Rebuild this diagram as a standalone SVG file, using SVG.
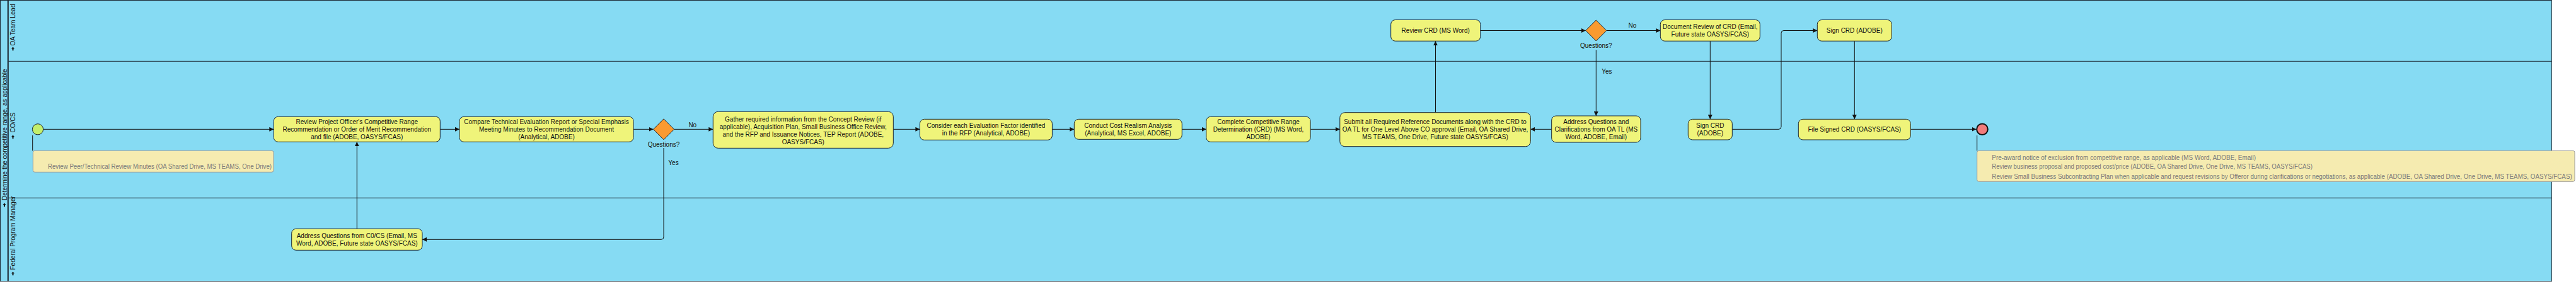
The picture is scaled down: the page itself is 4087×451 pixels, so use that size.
<svg xmlns="http://www.w3.org/2000/svg" width="4087" height="451" viewBox="0 0 4087 451">
<style>
.pool{fill:#86dbf3;stroke:#1b2630;stroke-width:1}
.div{stroke:#1b2630;stroke-width:1;fill:none}
.task{fill:#eff47a;stroke:#1b2630;stroke-width:1}
.gw{fill:#fa9a30;stroke:#1b2630;stroke-width:1}
.t{font-family:"Liberation Sans",Arial,sans-serif;font-size:10px;fill:#111;text-anchor:middle}
.lbl{font-family:"Liberation Sans",Arial,sans-serif;font-size:10px;fill:#111}
.ann{fill:#f5ebb0;stroke:#9a9a9a;stroke-width:1}
.annt{font-family:"Liberation Sans",Arial,sans-serif;font-size:10px;fill:#7a7a7a}
.conn path,.conn line{stroke:#111;stroke-width:1;fill:none}
.flow{marker-end:url(#arr)}
.icon{fill:#111}
</style>
<defs>
<marker id="arr" viewBox="0 0 10 10" refX="10" refY="5" markerUnits="userSpaceOnUse" markerWidth="7" markerHeight="7" orient="auto">
<path d="M0,0 L10,5 L0,10 z" fill="#111"/>
</marker>
</defs>
<rect x="0" y="0" width="4087" height="451" fill="#ffffff"/>
<g id="pool">
<rect class="pool" x="0.5" y="0.5" width="4047.8" height="446.2"/>
<line class="div" x1="12" y1="0.5" x2="12" y2="446.7"/>
<line class="div" x1="13.3" y1="0.5" x2="13.3" y2="446.7"/>
<line class="div" x1="13.3" y1="97.3" x2="4048.3" y2="97.3"/>
<line class="div" x1="13.3" y1="314.3" x2="4048.3" y2="314.3"/>
<text class="lbl" transform="translate(10.6,318) rotate(-90)">Determine the competitive range, as applicable</text>
<path class="icon" d="M7,322.5 l2.6,2.8 h-1.6 v3 h-2 v-3 h-1.6 z"/>
</g>
<g id="lane-oa">
<text class="lbl" transform="translate(23.8,72.5) rotate(-90)">OA Team Lead</text>
<path class="icon" d="M20.5,74.5 l2.6,2.8 h-1.6 v3 h-2 v-3 h-1.6 z"/>
</g>
<g id="lane-cocs">
<text class="lbl" transform="translate(23.8,210.5) rotate(-90)">CO/CS</text>
<path class="icon" d="M20.5,214.5 l2.6,2.8 h-1.6 v3 h-2 v-3 h-1.6 z"/>
</g>
<g id="lane-fpm">
<text class="lbl" transform="translate(23.8,428.5) rotate(-90)">Federal Program Manager</text>
<path class="icon" d="M20.5,431.5 l2.6,2.8 h-1.6 v3 h-2 v-3 h-1.6 z"/>
</g>

<g class="conn" id="connectors">
<path class="flow" d="M68.8,205.3 H434.3"/>
<path class="flow" d="M698.3,205.3 H729"/>
<path class="flow" d="M1005,205.3 H1036.5"/>
<path class="flow" d="M1069.5,205.3 H1131.3"/>
<path class="flow" d="M1053,235 V376.3 Q1053,380.3 1049,380.3 H670"/>
<path class="flow" d="M566.3,363.3 V225.3"/>
<path class="flow" d="M1417.3,205.3 H1459.4"/>
<path class="flow" d="M1669.5,205.3 H1704.3"/>
<path class="flow" d="M1875.4,205.3 H1913.8"/>
<path class="flow" d="M2079.1,205.3 H2125.8"/>
<path class="flow" d="M2277.5,178.7 V65.2"/>
<path class="flow" d="M2348.7,48.5 H2515.8"/>
<path class="flow" d="M2548.8,48.5 H2634.3"/>
<path class="flow" d="M2532.3,79.3 V184"/>
<path class="flow" d="M2461.7,205.3 H2428.3"/>
<path class="flow" d="M2713.3,65.2 V189.3"/>
<path class="flow" d="M2748.3,205.3 H2822 Q2826,205.3 2826,201.3 V52.5 Q2826,48.5 2830,48.5 H2883.3"/>
<path class="flow" d="M2942.3,65.2 V189.3"/>
<path class="flow" d="M3031.3,205.3 H3135.5"/>
<line x1="51.7" y1="215" x2="51.7" y2="239.3"/>
<line x1="3136.7" y1="215" x2="3136.7" y2="239.3"/>
<text class="lbl" x="1098.8" y="201.5" text-anchor="middle">No</text>
<text class="lbl" x="1068.5" y="262.2" text-anchor="middle">Yes</text>
<text class="lbl" x="2590" y="44.3" text-anchor="middle">No</text>
<text class="lbl" x="2549.3" y="117.3" text-anchor="middle">Yes</text>
</g>

<g id="start">
<circle cx="60" cy="205.3" r="8.6" fill="#c3ef6c" stroke="#1b2630" stroke-width="1"/>
</g>
<g id="note-start">
<rect class="ann" x="52.3" y="239.3" width="381.7" height="34" rx="3"/>
<text class="annt" x="76" y="268" textLength="355" lengthAdjust="spacingAndGlyphs">Review Peer/Technical Review Minutes (OA Shared Drive, MS TEAMS, One Drive)</text>
</g>
<g id="t1">
<rect class="task" x="434.3" y="185.3" width="264" height="40" rx="7"/>
<text class="t"><tspan x="566.3" y="196.9">Review Project Officer's Competitive Range</tspan><tspan x="566.3" y="208.9">Recommendation or Order of Merit Recommendation</tspan><tspan x="566.3" y="220.9">and file (ADOBE, OASYS/FCAS)</tspan></text>
</g>
<g id="t2">
<rect class="task" x="729" y="185.3" width="276" height="40" rx="7"/>
<text class="t"><tspan x="867" y="196.9">Compare Technical Evaluation Report or Special Emphasis</tspan><tspan x="867" y="208.9">Meeting Minutes to Recommendation Document</tspan><tspan x="867" y="220.9">(Analytical, ADOBE)</tspan></text>
</g>
<g id="g1">
<path class="gw" d="M1053,188.8 L1069.5,205.3 L1053,221.8 L1036.5,205.3 Z"/>
<text class="t" x="1053" y="232.9">Questions?</text>
</g>
<g id="t3">
<rect class="task" x="1131.3" y="177.3" width="286" height="58" rx="8"/>
<text class="t"><tspan x="1274.3" y="192.9">Gather required information from the Concept Review (if</tspan><tspan x="1274.3" y="204.9">applicable), Acquisition Plan, Small Business Office Review,</tspan><tspan x="1274.3" y="216.9">and the RFP and Issuance Notices, TEP Report (ADOBE,</tspan><tspan x="1274.3" y="228.9">OASYS/FCAS)</tspan></text>
</g>
<g id="t4">
<rect class="task" x="1459.4" y="189.3" width="210" height="33" rx="7"/>
<text class="t"><tspan x="1564.4" y="203.1">Consider each Evaluation Factor identified</tspan><tspan x="1564.4" y="215.1">in the RFP (Analytical, ADOBE)</tspan></text>
</g>
<g id="t5">
<rect class="task" x="1704.3" y="189.3" width="171" height="32" rx="7"/>
<text class="t"><tspan x="1789.8" y="203.1">Conduct Cost Realism Analysis</tspan><tspan x="1789.8" y="215.1">(Analytical, MS Excel, ADOBE)</tspan></text>
</g>
<g id="t6">
<rect class="task" x="1913.8" y="185.3" width="165.3" height="40" rx="7"/>
<text class="t"><tspan x="1996.5" y="196.9">Complete Competitive Range</tspan><tspan x="1996.5" y="208.9">Determination (CRD) (MS Word,</tspan><tspan x="1996.5" y="220.9">ADOBE)</tspan></text>
</g>
<g id="t7">
<rect class="task" x="2125.8" y="178.7" width="302.5" height="54" rx="8"/>
<text class="t"><tspan x="2277" y="196.9">Submit all Required Reference Documents along with the CRD to</tspan><tspan x="2277" y="208.9">OA TL for One Level Above CO approval (Email, OA Shared Drive,</tspan><tspan x="2277" y="220.9">MS TEAMS, One Drive, Future state OASYS/FCAS)</tspan></text>
</g>
<g id="t8">
<rect class="task" x="2461.7" y="184" width="141.3" height="42" rx="7"/>
<text class="t"><tspan x="2532.3" y="196.9">Address Questions and</tspan><tspan x="2532.3" y="208.9">Clarifications from OA TL (MS</tspan><tspan x="2532.3" y="220.9">Word, ADOBE, Email)</tspan></text>
</g>
<g id="t9">
<rect class="task" x="2678.3" y="189.3" width="70" height="32.7" rx="7"/>
<text class="t"><tspan x="2713.3" y="203.1">Sign CRD</tspan><tspan x="2713.3" y="215.1">(ADOBE)</tspan></text>
</g>
<g id="t10">
<rect class="task" x="2853.3" y="189.3" width="178" height="32.7" rx="7"/>
<text class="t" x="2942.3" y="208.9">File Signed CRD (OASYS/FCAS)</text>
</g>
<g id="end">
<circle cx="3145" cy="205.3" r="8.8" fill="#f27b7b" stroke="#111" stroke-width="2"/>
</g>
<g id="note-end">
<rect class="ann" x="3136.7" y="239.3" width="948.3" height="49" rx="3"/>
<text class="annt" x="3160.3" y="253.6" textLength="418.7" lengthAdjust="spacingAndGlyphs">Pre-award notice of exclusion from competitive range, as applicable (MS Word, ADOBE, Email)</text>
<text class="annt" x="3160.3" y="268.3" textLength="508.7" lengthAdjust="spacingAndGlyphs">Review business proposal and proposed cost/price (ADOBE, OA Shared Drive, One Drive, MS TEAMS, OASYS/FCAS)</text>
<text class="annt" x="3160.3" y="283.6" textLength="920.4" lengthAdjust="spacingAndGlyphs">Review Small Business Subcontracting Plan when applicable and request revisions by Offeror during clarifications or negotiations, as applicable (ADOBE, OA Shared Drive, One Drive, MS TEAMS, OASYS/FCAS)</text>
</g>
<g id="t11">
<rect class="task" x="2206.7" y="31.5" width="142" height="33.7" rx="7"/>
<text class="t" x="2277.7" y="52.1">Review CRD (MS Word)</text>
</g>
<g id="g2">
<path class="gw" d="M2532.3,32 L2548.8,48.5 L2532.3,65 L2515.8,48.5 Z"/>
<text class="t" x="2532.3" y="76.3">Questions?</text>
</g>
<g id="t12">
<rect class="task" x="2634.3" y="31.5" width="158" height="33.7" rx="7"/>
<text class="t"><tspan x="2713.3" y="46.1">Document Review of CRD (Email,</tspan><tspan x="2713.3" y="58.1">Future state OASYS/FCAS)</tspan></text>
</g>
<g id="t13">
<rect class="task" x="2883.3" y="31.5" width="118" height="33.7" rx="7"/>
<text class="t" x="2942.3" y="52.1">Sign CRD (ADOBE)</text>
</g>
<g id="t14">
<rect class="task" x="462.7" y="363.3" width="207.3" height="34" rx="7"/>
<text class="t"><tspan x="566.3" y="377.9">Address Questions from C0/CS (Email, MS</tspan><tspan x="566.3" y="389.9">Word, ADOBE, Future state OASYS/FCAS)</tspan></text>
</g>
</svg>
